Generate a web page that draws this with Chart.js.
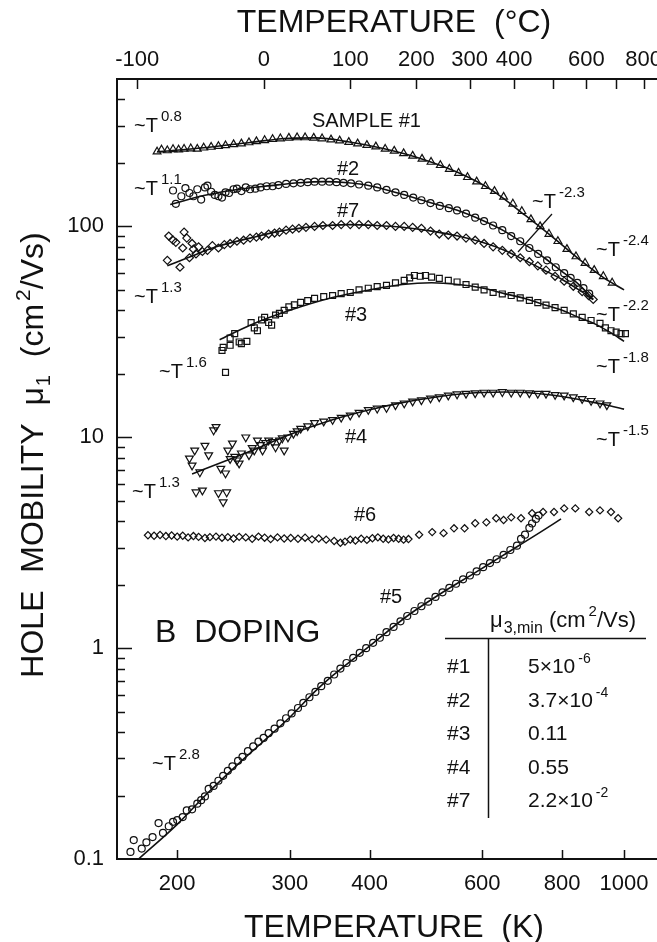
<!DOCTYPE html>
<html>
<head>
<meta charset="utf-8">
<script src="https://cdn.jsdelivr.net/npm/chart.js@4.4.1/dist/chart.umd.min.js"></script>
<style>
  html, body { margin: 0; padding: 0; background: #fff; overflow: hidden; }
  #wrap { width: 680px; height: 942px; }
</style>
</head>
<body>
<div id="wrap"><canvas id="chart" width="680" height="942"></canvas></div>
<script>
// axis ranges and tick labels
const tempMinK = 161;
const tempMaxK = 1180;
const mobMin = 0.1;
const mobMax = 500;
const bottomTicksK = [200, 300, 400, 600, 800, 1000];
const topLabelsC = [-100, 0, 100, 200, 300, 400, 600, 800];
const topTicksC = [-100, 0, 100, 200, 300, 400, 500, 600, 700, 800];
const yTicks = [0.1, 1, 10, 100];

// [temperature K, mobility cm2/Vs]
const sample1Pts = [[186,226],[189,231],[193,229],[197,232],[201,231],[205,233],[210,234],[215,233],[220,236],[226,238],[232,240],[238,242],[245,245],[252,247],[259,250],[266,253],[274,256],[282,259],[290,261],[299,263],[308,264],[317,264],[327,263],[337,261],[348,258],[359,255],[371,251],[383,247],[396,243],[409,239],[423,233],[437,228],[452,222],[467,216],[483,209],[499,202],[516,195],[533,187],[551,179],[569,171],[588,163],[607,155],[627,147],[648,138],[670,128],[692,118],[715,108],[739,100],[763,92],[788,85],[814,78],[841,72],[869,67],[898,62],[928,58],[958,54]];
const sample1Fit = [[186,226],[220,236],[260,250],[300,262],[330,263],[370,252],[420,234],[480,210],[550,180],[620,149],[700,113],[780,87],[860,68],[930,57],[1000,50]];

const sample2Pts = [[197,148],[199,128],[203,139],[206,152],[209,144],[212,139],[215,150],[218,134],[221,153],[223,156],[226,146],[229,141],[232,139],[235,137],[238,145],[241,144],[245,150],[248,151],[252,147],[256,153],[260,150],[265,151],[270,153],[276,155],[282,155],[288,157],[296,159],[304,160],[312,161],[320,162],[328,163],[337,163],[346,163],[355,162],[364,161],[374,160],[385,158],[398,156],[411,153],[425,149],[439,145],[453,141],[468,137],[482,133],[498,129],[515,125],[532,122],[548,119],[566,115],[585,110],[604,106],[624,101],[645,96],[666,90],[688,85],[711,79],[734,74],[758,69],[782,64],[806,60],[825,57],[845,54],[864,51],[882,48]];
const sample2Fit = [[195,127],[220,140],[250,150],[280,156],[310,161],[340,163],[370,161],[400,156],[450,142],[500,129],[550,119],[600,107],[650,95],[700,82],[750,71],[800,61],[850,53],[895,45]];

const sample7Pts = [[193,69],[194,90],[197,86],[199,84],[202,64],[204,79],[205,94],[207,88],[209,71],[211,83],[212,78],[214,74],[216,80],[219,76],[223,77],[227,81],[232,79],[237,82],[242,83],[248,85],[254,86],[260,88],[266,89],[271,90],[278,92],[284,93],[289,94],[296,96],[303,97],[310,98],[318,99],[328,100],[338,101],[350,101],[361,102],[373,102],[385,102],[398,102],[411,101],[425,101],[439,100],[453,100],[467,99],[482,98],[498,95],[514,92],[531,91],[548,90],[566,88],[585,86],[604,83],[624,80],[645,77],[666,74],[688,71],[711,68],[733,65],[755,62],[780,58],[806,55],[833,52],[860,49],[880,47],[895,45]];
const sample7Fit = [[193,65],[210,72],[230,80],[260,88],[290,95],[330,100],[370,102],[410,101],[450,99],[500,95],[550,90],[600,84],[650,77],[700,69],[750,62],[800,56],[850,50],[895,45]];

const sample3Pts = [[238,20.3],[235,25.8],[236,26.7],[242,27.3],[242,29.5],[246,31],[250,28.3],[252,27.8],[257,28.5],[261,35],[264,33],[267,32],[271,36],[274,37],[278,35],[281,34],[285,38],[289,38.7],[294,40],[299,41.5],[305,42.5],[312,43.6],[320,44.5],[328,45.6],[339,46.5],[350,47],[361,48],[373,48.6],[385,50],[398,50.9],[411,51.8],[425,52.5],[439,54],[453,55.5],[462,57],[470,58.5],[480,58],[489,58.5],[500,57.5],[514,56.7],[531,55.5],[548,54.5],[566,53],[585,51.5],[604,50],[624,48.6],[645,47.8],[666,47],[688,45.8],[711,44.6],[733,43.5],[755,42.3],[780,41.2],[806,40],[833,38.5],[860,37],[888,35.8],[917,34.7],[935,33],[954,32],[972,31.5],[989,31],[1005,31]];
const sample3Fit = [[233,29],[260,34],[300,40],[350,46],[400,50],[450,53],[500,54],[550,53],[600,51],[650,48],[700,45.5],[750,42.5],[800,40],[850,37],[900,34.5],[950,31.5],[1000,28.5]];

const sample4Pts = [[209,7.94],[211,7.36],[213,8.67],[214,5.49],[217,6.83],[219,5.6],[221,9.13],[224,8.23],[228,10.8],[230,11.2],[232,5.44],[234,7.1],[236,4.93],[238,6.75],[239,5.49],[240,8.67],[242,7.9],[244,9.35],[246,8.1],[248,7.78],[250,7.52],[252,8.4],[256,10],[259,8.23],[262,8.9],[264,8.67],[267,9.67],[270,9.2],[272,8.67],[275,9.4],[278,9.67],[282,9.5],[285,8.97],[289,9.67],[292,9.9],[294,8.67],[298,10],[304,10.4],[308,10.7],[312,11],[320,11.3],[328,11.7],[339,11.9],[350,12.1],[361,12.4],[373,12.7],[385,13.1],[398,13.5],[411,13.7],[425,13.8],[439,14.2],[453,14.5],[467,14.8],[482,15],[498,15.3],[514,15.5],[531,15.8],[548,16],[566,16.1],[585,16.2],[604,16.3],[624,16.3],[645,16.4],[666,16.3],[688,16.3],[711,16.2],[733,16.1],[755,16.1],[780,15.9],[806,15.8],[833,15.5],[860,15.2],[888,14.9],[917,14.5],[940,14.2]];
const sample4Fit = [[211,6.7],[240,7.8],[270,9],[300,10.3],[350,12.1],[400,13.5],[450,14.6],[500,15.4],[550,16],[600,16.3],[650,16.4],[700,16.3],[750,16],[800,15.6],[850,15.1],[900,14.6],[950,14.1],[1000,13.6]];

const sample6Pts = [[180,3.43],[184,3.41],[188,3.44],[192,3.40],[196,3.42],[200,3.38],[204,3.41],[208,3.35],[212,3.40],[216,3.37],[221,3.33],[225,3.36],[230,3.38],[235,3.34],[240,3.36],[245,3.31],[250,3.37],[256,3.35],[262,3.30],[268,3.38],[274,3.34],[280,3.29],[287,3.35],[294,3.31],[301,3.33],[309,3.30],[317,3.34],[325,3.28],[333,3.31],[342,3.27],[352,3.22],[360,3.16],[366,3.20],[373,3.27],[380,3.24],[388,3.30],[396,3.26],[404,3.32],[412,3.35],[420,3.30],[428,3.28],[436,3.33],[444,3.30],[452,3.27],[460,3.29],[478,3.45],[501,3.55],[522,3.51],[542,3.70],[563,3.70],[585,3.91],[609,3.95],[631,4.13],[648,4.05],[666,4.17],[690,4.13],[718,4.36],[747,4.42],[777,4.42],[806,4.60],[839,4.60],[882,4.42],[917,4.50],[954,4.42],[979,4.13]];

const sample5Pts = [[169,0.108],[171,0.123],[176,0.112],[179,0.120],[183,0.127],[187,0.148],[190,0.133],[194,0.143],[197,0.150],[200,0.153],[204,0.158],[207,0.170],[211,0.172],[215,0.183],[218,0.190],[221,0.198],[224,0.215],[228,0.222],[232,0.235],[236,0.248],[240,0.262],[244,0.275],[249,0.292],[253,0.305],[258,0.325],[263,0.342],[268,0.36],[273,0.375],[278,0.395],[284,0.415],[290,0.44],[296,0.465],[302,0.49],[309,0.52],[315,0.55],[322,0.585],[329,0.62],[336,0.66],[344,0.70],[352,0.75],[360,0.80],[368,0.85],[377,0.90],[386,0.95],[395,1.00],[405,1.06],[415,1.12],[425,1.19],[436,1.26],[447,1.34],[458,1.42],[470,1.50],[482,1.58],[494,1.66],[507,1.75],[520,1.84],[533,1.93],[546,2.02],[560,2.12],[574,2.21],[588,2.31],[602,2.42],[617,2.53],[632,2.64],[648,2.77],[664,2.92],[680,3.06],[690,3.3],[700,3.45],[711,3.72],[718,3.9],[728,4.1],[735,4.25]];
const sample5Fit = [[174,0.1],[200,0.146],[223,0.205],[250,0.285],[271,0.355],[300,0.47],[328,0.62],[350,0.74],[398,1.01],[458,1.42],[522,1.85],[585,2.28],[640,2.7],[683,3.05],[740,3.55],[797,4.1]];

// table of mu_3,min values
const tableSamples = ['#1', '#2', '#3', '#4', '#7'];
const tableMant = ['5\u00d710', '3.7\u00d710', '0.11', '0.55', '2.2\u00d710'];
const tableExp = ['-6', '-4', '', '', '-2'];

const FONT = '"Liberation Sans", Arial, Helvetica, sans-serif';
const INK = '#111';

function toXY(arr) {
  return arr.map(p => ({ x: p[0], y: p[1] }));
}

function markers(pts, style, radius, rotation) {
  return {
    data: toXY(pts),
    showLine: false,
    pointStyle: style,
    pointRadius: radius,
    pointRotation: rotation || 0,
    pointBorderWidth: 1.2,
    pointBorderColor: INK,
    pointBackgroundColor: 'rgba(255,255,255,0)',
  };
}

function fitLine(pts) {
  return {
    data: toXY(pts),
    showLine: true,
    pointRadius: 0,
    borderColor: INK,
    borderWidth: 1.6,
    cubicInterpolationMode: 'monotone',
  };
}

// text pieces with sub/superscripts
function txt(t, size) { return { t: t, size: size || 20, dy: 0, gap: 0 }; }
function sup(t, size, dy) { return { t: t, size: size || 15, dy: dy || -11, gap: 3 }; }
function sub(t, size, dy) { return { t: t, size: size || 14, dy: dy || 6, gap: 1 }; }

function drawRich(ctx, x, y, parts, align) {
  let w = 0;
  parts.forEach(p => {
    ctx.font = p.size + 'px ' + FONT;
    p.w = ctx.measureText(p.t).width;
    w += p.w + p.gap;
  });
  let cx = align === 'center' ? x - w / 2 : x;
  ctx.textAlign = 'left';
  ctx.textBaseline = 'alphabetic';
  parts.forEach(p => {
    ctx.font = p.size + 'px ' + FONT;
    ctx.fillText(p.t, cx + p.gap, y + p.dy);
    cx += p.w + p.gap;
  });
}

const notes = [
  { x: 134, y: 132, parts: [txt('~T'), sup('0.8')] },
  { x: 312, y: 127, parts: [txt('SAMPLE #1')] },
  { x: 337, y: 175, parts: [txt('#2')] },
  { x: 134, y: 195, parts: [txt('~T'), sup('1.1')] },
  { x: 337, y: 217, parts: [txt('#7')] },
  { x: 532, y: 208, parts: [txt('~T'), sup('-2.3')] },
  { x: 596, y: 256, parts: [txt('~T'), sup('-2.4')] },
  { x: 134, y: 303, parts: [txt('~T'), sup('1.3')] },
  { x: 345, y: 321, parts: [txt('#3')] },
  { x: 596, y: 321, parts: [txt('~T'), sup('-2.2')] },
  { x: 159, y: 378, parts: [txt('~T'), sup('1.6')] },
  { x: 596, y: 373, parts: [txt('~T'), sup('-1.8')] },
  { x: 345, y: 443, parts: [txt('#4')] },
  { x: 596, y: 446, parts: [txt('~T'), sup('-1.5')] },
  { x: 132, y: 498, parts: [txt('~T'), sup('1.3')] },
  { x: 354, y: 521, parts: [txt('#6')] },
  { x: 380, y: 603, parts: [txt('#5')] },
  { x: 155, y: 642, parts: [txt('B  DOPING', 32)] },
  { x: 152, y: 770, parts: [txt('~T'), sup('2.8')] },
];

const paperPlugin = {
  id: 'paper',
  afterDraw(chart) {
    const ctx = chart.ctx;
    const sx = chart.scales.x;
    const st = chart.scales.xTop;
    const sy = chart.scales.y;
    const a = chart.chartArea;
    ctx.save();
    ctx.strokeStyle = INK;
    ctx.fillStyle = INK;
    ctx.lineWidth = 1.5;

    // inward tick marks
    ctx.beginPath();
    bottomTicksK.forEach(v => {
      const px = Math.round(sx.getPixelForValue(v)) + 0.5;
      ctx.moveTo(px, a.bottom); ctx.lineTo(px, a.bottom - 9);
    });
    topTicksC.forEach(c => {
      const px = Math.round(st.getPixelForValue(c + 273.15)) + 0.5;
      ctx.moveTo(px, a.top); ctx.lineTo(px, a.top + 10);
    });
    for (let dec = 0.1; dec < mobMax; dec *= 10) {
      for (let k = 1; k < 10; k++) {
        const v = dec * k;
        if (v <= mobMin * 1.001 || v >= mobMax) continue;
        const py = Math.round(sy.getPixelForValue(v)) + 0.5;
        ctx.moveTo(a.left, py); ctx.lineTo(a.left + (k === 1 ? 15 : 8), py);
      }
    }
    ctx.stroke();

    // pointer for ~T^-2.3
    ctx.lineWidth = 1.2;
    ctx.beginPath();
    ctx.moveTo(552, 214); ctx.lineTo(518, 252);
    ctx.stroke();

    notes.forEach(n => drawRich(ctx, n.x, n.y, n.parts, 'left'));

    // axis titles
    drawRich(ctx, 394, 32, [txt('TEMPERATURE  (\u00b0C)', 32)], 'center');
    drawRich(ctx, 394, 937, [txt('TEMPERATURE  (K)', 32)], 'center');
    ctx.save();
    ctx.translate(43, 455);
    ctx.rotate(-Math.PI / 2);
    drawRich(ctx, 0, 0, [txt('HOLE  MOBILITY  \u03bc', 32), sub('1', 20, 7), txt('  (cm', 32), sup('2', 21, -13), txt('/Vs)', 32)], 'center');
    ctx.restore();

    // mu_3,min table
    drawRich(ctx, 490, 627, [txt('\u03bc', 22), sub('3,min', 16, 6), txt(' (cm', 22), sup('2', 15, -11), txt('/Vs)', 22)], 'left');
    ctx.lineWidth = 1.5;
    ctx.beginPath();
    ctx.moveTo(445, 638.5); ctx.lineTo(646, 638.5);
    ctx.moveTo(488.5, 638); ctx.lineTo(488.5, 818);
    ctx.stroke();
    tableSamples.forEach((s, i) => {
      const by = 673 + i * 33.5;
      drawRich(ctx, 447, by, [txt(s, 21)], 'left');
      const parts = [txt(tableMant[i], 21)];
      if (tableExp[i]) parts.push(sup(tableExp[i], 14, -10));
      drawRich(ctx, 528, by, parts, 'left');
    });
    ctx.restore();
  }
};

const tickFont = { family: FONT, size: 22 };

new Chart(document.getElementById('chart'), {
  type: 'scatter',
  data: {
    datasets: [
      markers(sample1Pts, 'triangle', 4.5),
      fitLine(sample1Fit),
      markers(sample2Pts, 'circle', 3.5),
      fitLine(sample2Fit),
      markers(sample7Pts, 'rectRot', 4),
      fitLine(sample7Fit),
      markers(sample3Pts, 'rect', 4.2),
      fitLine(sample3Fit),
      markers(sample4Pts, 'triangle', 4.5, 180),
      fitLine(sample4Fit),
      markers(sample6Pts, 'rectRot', 3.6),
      markers(sample5Pts, 'circle', 3.5),
      fitLine(sample5Fit),
    ]
  },
  options: {
    responsive: false,
    animation: false,
    layout: { padding: { left: 0, right: 10, top: 0, bottom: 0 } },
    plugins: { legend: { display: false }, tooltip: { enabled: false } },
    scales: {
      x: {
        type: 'logarithmic',
        position: 'bottom',
        min: tempMinK,
        max: tempMaxK,
        afterFit: s => { s.height = 83; },
        afterBuildTicks: s => { s.ticks = bottomTicksK.map(v => ({ value: v })); },
        grid: { display: false, drawTicks: false },
        border: { display: true, color: INK, width: 2 },
        ticks: { font: tickFont, color: INK, padding: 12, autoSkip: false, maxRotation: 0, callback: v => String(v) },
      },
      xTop: {
        type: 'logarithmic',
        position: 'top',
        min: tempMinK,
        max: tempMaxK,
        afterFit: s => { s.height = 79; },
        afterBuildTicks: s => { s.ticks = topLabelsC.map(c => ({ value: c + 273.15 })); },
        grid: { display: false, drawTicks: false },
        border: { display: true, color: INK, width: 2 },
        ticks: { font: tickFont, color: INK, padding: 6, autoSkip: false, maxRotation: 0, callback: v => String(Math.round(v - 273.15)) },
      },
      y: {
        type: 'logarithmic',
        position: 'left',
        min: mobMin,
        max: mobMax,
        afterFit: s => { s.width = 117; },
        afterBuildTicks: s => { s.ticks = yTicks.map(v => ({ value: v })); },
        grid: { display: false, drawTicks: false },
        border: { display: true, color: INK, width: 2 },
        ticks: { font: tickFont, color: INK, padding: 13, autoSkip: false, callback: v => String(v) },
      },
    }
  },
  plugins: [paperPlugin]
});
</script>
</body>
</html>
